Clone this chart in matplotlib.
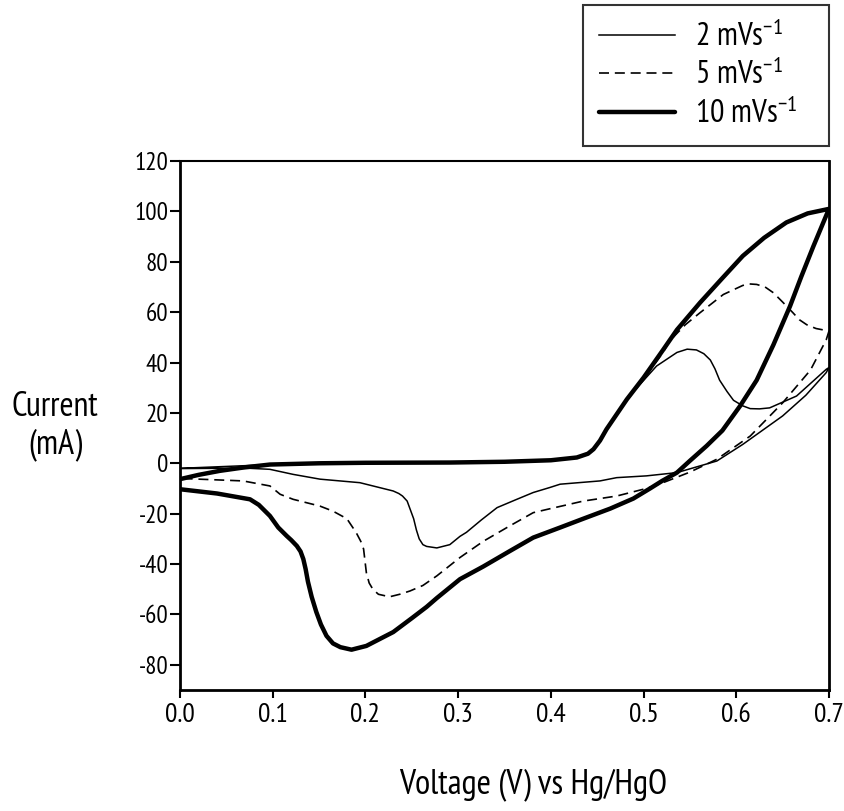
import matplotlib
matplotlib.use("Agg")
import matplotlib.pyplot as plt
from matplotlib import font_manager as fm

names = {f.name for f in fm.fontManager.ttflist}
FAM = "PT Sans Narrow" if "PT Sans Narrow" in names else "DejaVu Sans"
plt.rcParams["font.family"] = [FAM, "DejaVu Sans"]
plt.rcParams["mathtext.default"] = "regular"

# ---------------- data ----------------
labels = ["2 mVs$^{-1}$", "5 mVs$^{-1}$", "10 mVs$^{-1}$"]
xticks = [0.0, 0.1, 0.2, 0.3, 0.4, 0.5, 0.6, 0.7]
yticks = [-80, -60, -40, -20, 0, 20, 40, 60, 80, 100, 120]

# 10 mV/s : anodic sweep then cathodic sweep
v10 = [0.000, 0.020, 0.043, 0.070, 0.097, 0.150, 0.200, 0.291, 0.350, 0.400, 0.428, 0.440,
       0.446, 0.453, 0.460, 0.482, 0.500, 0.521, 0.536, 0.561, 0.585, 0.607, 0.630, 0.654,
       0.677, 0.700,
       0.683, 0.670, 0.658, 0.640, 0.622, 0.604, 0.585, 0.568, 0.550, 0.536, 0.520, 0.507,
       0.489, 0.464, 0.435, 0.410, 0.381, 0.355, 0.327, 0.302, 0.277, 0.266, 0.250, 0.230,
       0.201, 0.185, 0.173, 0.165, 0.158, 0.152, 0.147, 0.142, 0.138, 0.1355, 0.133, 0.130,
       0.126, 0.120, 0.115, 0.106, 0.097, 0.085, 0.0755, 0.040, 0.000]
i10 = [-6.3, -4.6, -3.0, -1.6, -0.5, 0.0, 0.2, 0.3, 0.6, 1.2, 2.3, 3.8,
       5.6, 9.0, 13.5, 25.4, 34.0, 45.0, 53.0, 63.8, 73.5, 82.3, 89.5, 95.6,
       99.2, 101.0,
       86.0, 74.0, 62.4, 47.0, 33.0, 22.7, 13.0, 6.9, 1.0, -3.7, -7.0, -10.0,
       -14.0, -18.0, -22.0, -25.5, -29.5, -35.0, -41.0, -46.0, -53.5, -57.0, -61.5, -67.0,
       -72.5, -74.0, -73.0, -71.5, -68.5, -64.0, -59.0, -53.0, -47.0, -42.0, -38.0, -35.0,
       -32.8, -30.5, -28.8, -25.5, -20.9, -16.5, -14.3, -12.0, -10.3]

# 5 mV/s
v5 = [0.000, 0.020, 0.043, 0.070, 0.097, 0.150, 0.200, 0.291, 0.350, 0.400, 0.428, 0.440,
      0.446, 0.453, 0.460, 0.482, 0.500, 0.521, 0.528, 0.545, 0.561, 0.586, 0.607, 0.614,
      0.622, 0.631, 0.640, 0.650, 0.661, 0.668, 0.676, 0.686, 0.700,
      0.697, 0.680, 0.650, 0.615, 0.579, 0.550, 0.521, 0.503, 0.471, 0.435, 0.396, 0.381,
      0.355, 0.327, 0.302, 0.277, 0.262, 0.248, 0.237, 0.226, 0.214, 0.208, 0.204, 0.201,
      0.198, 0.195, 0.190, 0.180, 0.165, 0.151, 0.122, 0.108, 0.097, 0.068, 0.000]
i5 = [-6.0, -4.6, -3.0, -1.6, -0.5, 0.0, 0.2, 0.3, 0.6, 1.2, 2.3, 3.8,
      5.6, 9.0, 13.5, 25.0, 33.5, 44.0, 48.5, 55.0, 59.8, 67.0, 70.6, 71.2,
      71.0, 70.0, 67.7, 64.0, 59.8, 57.0, 55.0, 53.5, 52.5,
      49.0, 37.0, 24.0, 10.8, 1.6, -3.5, -7.7, -10.0, -13.0, -15.0, -18.3, -19.6,
      -25.0, -31.0, -37.4, -44.7, -48.5, -50.7, -52.0, -53.0, -52.0, -50.0, -47.5, -43.4,
      -34.0, -31.0, -27.5, -22.0, -19.0, -17.0, -14.3, -12.3, -9.0, -7.0, -6.0]

# 2 mV/s
v2 = [0.000, 0.040, 0.080, 0.150, 0.200, 0.291, 0.350, 0.400, 0.428, 0.440, 0.446, 0.453,
      0.460, 0.482, 0.493, 0.514, 0.536, 0.547, 0.557, 0.565, 0.572, 0.577, 0.582, 0.590,
      0.597, 0.607, 0.615, 0.625, 0.636, 0.665, 0.697, 0.700,
      0.697, 0.675, 0.650, 0.607, 0.579, 0.536, 0.503, 0.471, 0.453, 0.410, 0.399, 0.381,
      0.362, 0.342, 0.325, 0.309, 0.302, 0.291, 0.277, 0.266, 0.262, 0.258, 0.255, 0.252,
      0.245, 0.240, 0.236, 0.230, 0.194, 0.151, 0.122, 0.097, 0.0755, 0.040, 0.000]
i2 = [-2.0, -1.4, -0.8, 0.0, 0.2, 0.3, 0.6, 1.2, 2.3, 3.8, 5.6, 9.0,
      13.5, 25.4, 30.0, 38.6, 44.0, 45.3, 45.0, 43.5, 41.0, 37.5, 33.0, 28.5,
      25.0, 22.8, 21.7, 21.6, 22.0, 26.7, 37.3, 38.0,
      36.0, 27.0, 18.8, 7.5, 0.9, -3.7, -5.0, -5.7, -7.0, -8.3, -9.6, -11.6,
      -14.5, -17.6, -22.5, -27.4, -29.0, -32.3, -33.6, -33.0, -32.3, -30.0, -26.5, -22.0,
      -15.0, -13.0, -12.0, -11.0, -7.7, -6.3, -4.4, -2.4, -2.0, -2.0, -2.1]

# ---------------- figure ----------------
fig = plt.figure(figsize=(8.45, 8.11), dpi=100)
ax = fig.add_axes([180 / 845, 1 - 690 / 811, (829 - 180) / 845, (690 - 161) / 811])

l2, = ax.plot(v2, i2, color="black", lw=1.1, solid_joinstyle="round")
l5, = ax.plot(v5, i5, color="black", lw=1.2, linestyle=(0, (6, 3.5)))
l10, = ax.plot(v10, i10, color="black", lw=3.2, solid_joinstyle="round",
               solid_capstyle="round")

ax.set_xlim(0.0, 0.7)
ax.set_ylim(-90, 120)
ax.set_xticks(xticks)
ax.set_xticklabels([f"{t:.1f}" for t in xticks])
ax.set_yticks(yticks)
ax.set_yticklabels([str(t) for t in yticks])
ax.tick_params(axis="y", length=7, width=1.5, pad=1.5, labelsize=18, direction="out")
ax.tick_params(axis="x", length=6, width=1.5, pad=3, labelsize=20, direction="out")
for s in ["left", "bottom", "right"]:
    ax.spines[s].set_linewidth(2.0)
ax.spines["top"].set_linewidth(1.5)

fig.text(55 / 845, 1 - 426 / 811, "Current\n(mA)", ha="center", va="center",
         fontsize=24.5, linespacing=1.2)
fig.text(533 / 845, 1 - 785 / 811, "Voltage (V) vs Hg/HgO", ha="center", va="center",
         fontsize=25)

leg = fig.legend([l2, l5, l10], labels, loc="upper left", mode="expand",
                 bbox_to_anchor=(583 / 845, 1 - 144 / 811, 246 / 845, 139 / 811),
                 bbox_transform=fig.transFigure,
                 fontsize=23, frameon=True, fancybox=False, edgecolor="black",
                 handlelength=2.38, handletextpad=0.62, labelspacing=0.2,
                 borderpad=0.5, borderaxespad=0.0)
leg.get_frame().set_linewidth(1.5)

fig.savefig("out.png", dpi=100)
